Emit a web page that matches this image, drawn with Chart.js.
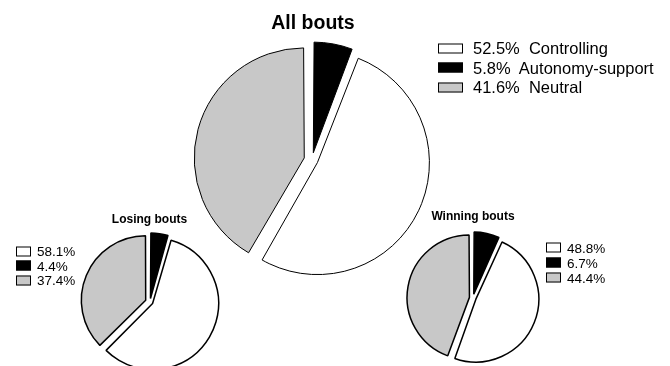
<!DOCTYPE html>
<html>
<head>
<meta charset="utf-8">
<script src="https://cdn.jsdelivr.net/npm/chart.js@4.4.1/dist/chart.umd.min.js"></script>
<style>
  body { margin: 0; background: #fff; font-family: Arial, "Liberation Sans", sans-serif; color: #000; }
  #wrap { position: relative; width: 670px; height: 366px; overflow: hidden; }
  .pie { position: absolute; }
  .title { position: absolute; font-weight: bold; transform: translate(-50%, -50%); white-space: nowrap; }
  .row { position: absolute; display: flex; align-items: center; transform: translateY(-50%); white-space: pre; }
  .box { border: 1px solid #000; box-sizing: border-box; flex: none; }
</style>
</head>
<body>
<div id="wrap"></div>
<script>
const categories = ['Controlling', 'Autonomy-support', 'Neutral'];
const allBouts = [52.5, 5.8, 41.6];
const losingBouts = [58.1, 4.4, 37.4];
const winningBouts = [48.8, 6.7, 44.4];
const sliceColors = ['#ffffff', '#000000', '#c8c8c8'];
// slices go clockwise from 12 o'clock: autonomy-support, controlling, neutral
const drawOrder = [1, 0, 2];

const wrap = document.getElementById('wrap');

// Chart.js moves an arc by offset/4 * (1 + fix), so work back from the
// gap in pixels we want for each slice.
function arcOffset(pct, gap) {
    const c = pct / 100 * 2 * Math.PI;
    const fix = 1 - Math.sin(Math.min(Math.PI, c));
    return 4 * gap / (1 + fix);
}

function drawPie(values, cx, cy, r, gap, bw) {
    const size = 2 * (r + gap + 10);
    const div = document.createElement('div');
    div.className = 'pie';
    div.style.left = (cx - size / 2) + 'px';
    div.style.top = (cy - size / 2) + 'px';
    div.style.width = size + 'px';
    div.style.height = size + 'px';
    const canvas = document.createElement('canvas');
    div.appendChild(canvas);
    wrap.appendChild(div);

    const ordered = drawOrder.map(i => values[i]);
    new Chart(canvas, {
        type: 'pie',
        data: {
            labels: drawOrder.map(i => categories[i]),
            datasets: [{
                data: ordered,
                backgroundColor: drawOrder.map(i => sliceColors[i]),
                borderColor: '#000',
                borderWidth: bw,
                offset: ordered.map(v => arcOffset(v, gap))
            }]
        },
        options: {
            responsive: true,
            maintainAspectRatio: false,
            animation: false,
            events: [],
            radius: r,
            layout: { padding: 0 },
            plugins: {
                legend: { display: false },
                tooltip: { enabled: false }
            }
        }
    });
}

function addTitle(text, x, y, size) {
    const el = document.createElement('div');
    el.className = 'title';
    el.textContent = text;
    el.style.left = x + 'px';
    el.style.top = y + 'px';
    el.style.fontSize = size + 'px';
    wrap.appendChild(el);
}

function addLegend(labels, x, y, gap, boxW, boxH, textGap, fontSize) {
    labels.forEach((label, i) => {
        const row = document.createElement('div');
        row.className = 'row';
        row.style.left = x + 'px';
        row.style.top = (y + i * gap) + 'px';
        row.style.fontSize = fontSize + 'px';
        const box = document.createElement('div');
        box.className = 'box';
        box.style.width = boxW + 'px';
        box.style.height = boxH + 'px';
        box.style.background = sliceColors[i];
        box.style.marginRight = textGap + 'px';
        const txt = document.createElement('span');
        txt.textContent = label;
        row.appendChild(box);
        row.appendChild(txt);
        wrap.appendChild(row);
    });
}

// big pie
drawPie(allBouts, 311.6, 160, 106, 12, 1);
addTitle('All bouts', 313, 22, 19.5);
addLegend(allBouts.map((v, i) => v.toFixed(1) + '%  ' + categories[i]), 438, 48, 19.5, 25, 10, 10, 16.5);

// losing bouts
drawPie(losingBouts, 149.5, 302, 63, 6, 1.5);
addTitle('Losing bouts', 149.5, 219, 12);
addLegend(losingBouts.map(v => v.toFixed(1) + '%'), 16, 251, 14.5, 15, 10, 6, 13.5);

// winning bouts
drawPie(winningBouts, 472.6, 298, 60, 6, 1.5);
addTitle('Winning bouts', 473, 216, 12);
addLegend(winningBouts.map(v => v.toFixed(1) + '%'), 546, 247.5, 15, 15, 10, 6, 13.5);
</script>
</body>
</html>
